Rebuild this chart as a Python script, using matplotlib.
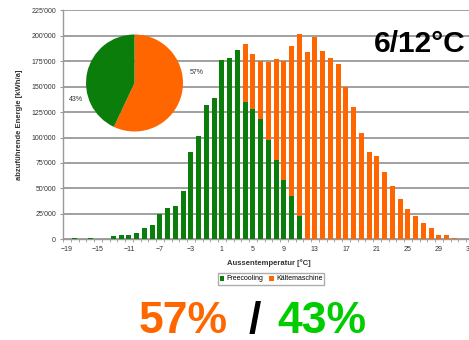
import matplotlib
matplotlib.use("Agg")
import matplotlib.pyplot as plt
from matplotlib.ticker import FuncFormatter, MultipleLocator

plt.rcParams['font.family'] = ['Liberation Sans', 'DejaVu Sans']

# Aussentemperatur [°C], one bar per degree
temps = list(range(-19, 34))

# abzufuehrende Energie [kWh/a]
freecooling = [500, 1000, 500, 1000, 700, 700, 3300, 4300, 4300, 5900,
               10800, 13800, 24600, 31100, 33100, 47800, 86100, 101200, 131700, 139200,
               176000, 177800, 186000, 135200, 127700, 117900, 97600, 77900, 58300, 42500,
               22900, 0, 0, 0, 0, 0, 0, 0, 0, 0,
               0, 0, 0, 0, 0, 0, 0, 0, 0, 0,
               0, 0, 0]
kaeltemaschine = [0, 0, 0, 0, 0, 0, 0, 0, 0, 0,
                  0, 0, 0, 0, 0, 0, 0, 0, 0, 0,
                  0, 0, 0, 56700, 54300, 57600, 76600, 98900, 117200, 147400,
                  178800, 184000, 198500, 185300, 177800, 172200, 149900, 130300, 104100, 86100,
                  81800, 65800, 52700, 39300, 29800, 22900, 15700, 10800, 4200, 4200,
                  1600, 500, 200]

pie_labels = ['57%', '43%']
pie_shares = [57, 43]

green = '#0a7d0a'
orange = '#ff6600'

fig = plt.figure(figsize=(4.69, 3.40), dpi=100)
ax = fig.add_axes([63 / 469, 100.7 / 340, 410.75 / 469, 229 / 340])

ax.bar(temps, freecooling, width=0.66, color=green, label='Freecooling', zorder=3)
ax.bar(temps, kaeltemaschine, width=0.66, bottom=freecooling, color=orange,
       label='Kältemaschine', zorder=3)

ax.set_xlim(-19.5, 33.5)
ax.set_ylim(0, 225000)
ax.set_xticks(range(-19, 34, 4))
ax.xaxis.set_minor_locator(MultipleLocator(1, offset=0.5))
ax.yaxis.set_major_locator(MultipleLocator(25000))
ax.yaxis.set_major_formatter(FuncFormatter(lambda v, p: f"{v:,.0f}".replace(",", "'")))
ax.tick_params(axis='x', which='major', length=0, pad=5, labelsize=5, labelcolor='#333333')
ax.tick_params(axis='x', which='minor', length=2, color='#999999')
ax.tick_params(axis='y', length=2, pad=3, labelsize=5, labelcolor='#333333', color='#999999')
ax.grid(axis='y', color='#a0a0a0', linewidth=1.4, zorder=0)
for side in ['top', 'right']:
    ax.spines[side].set_visible(False)
for side in ['left', 'bottom']:
    ax.spines[side].set_color('#999999')
    ax.spines[side].set_linewidth(1.0)

ax.set_xlabel('Aussentemperatur [°C]', fontsize=5.5, fontweight='bold', color='#333333', labelpad=4)
ax.set_ylabel('abzuführende Energie [kWh/a]', fontsize=5.5, fontweight='bold', color='#333333',
              labelpad=6)

fig.legend(loc='center', bbox_to_anchor=(271 / 469, 1 - 279 / 340), ncol=2, fontsize=5,
           frameon=True, fancybox=False, edgecolor='#999999', handlelength=0.7,
           handleheight=0.7, handletextpad=0.3, columnspacing=0.8, borderpad=0.3)

# pie inset
pax = fig.add_axes([(134.5 - 48.5) / 469, 1 - (83 + 48.5) / 340, 97 / 469, 97 / 340])
pax.pie(pie_shares, colors=[orange, green], startangle=90, counterclock=False)
pax.set_xlim(-1, 1)
pax.set_ylim(-1, 1)
pax.set_aspect('equal')
pax.axis('off')
fig.text(197 / 469, 1 - 73 / 340, pie_labels[0], fontsize=5, ha='center', va='center', color='#333333')
fig.text(76 / 469, 1 - 99 / 340, pie_labels[1], fontsize=5, ha='center', va='center', color='#333333')

fig.text(465 / 469, 1 - 44 / 340, '6/12°C', fontsize=21.5, fontweight='bold', ha='right', va='center')

fig.text(228 / 469, 1 - 333 / 340, '57%', fontsize=32, fontweight='bold', color=orange,
         ha='right', va='baseline')
fig.text(255 / 469, 1 - 333 / 340, '/', fontsize=32, fontweight='bold', color='black',
         ha='center', va='baseline')
fig.text(277 / 469, 1 - 333 / 340, '43%', fontsize=32, fontweight='bold', color='#00cc00',
         ha='left', va='baseline')

fig.savefig('out.png', dpi=100)
